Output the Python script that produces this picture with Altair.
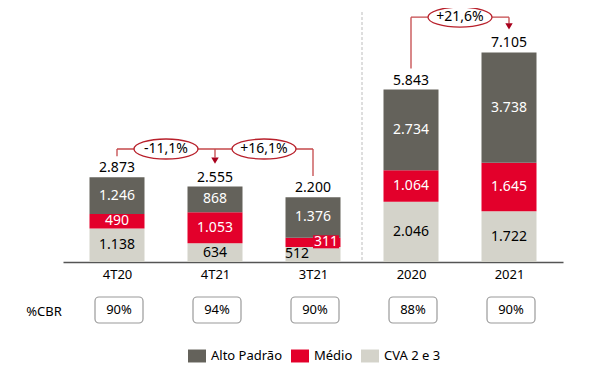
import json
import altair as alt
import pandas as pd

# ---------------- data ----------------
categories = ["4T20", "4T21", "3T21", "2020", "2021"]
alto = [1246, 868, 1376, 2734, 3738]
medio = [490, 1053, 311, 1064, 1645]
cva = [1138, 634, 512, 2046, 1722]
totals = [2873, 2555, 2200, 5843, 7105]
cbr = ["90%", "94%", "90%", "88%", "90%"]
series = ["Alto Padrão", "Médio", "CVA 2 e 3"]
colors = ["#64625b", "#e3002b", "#d4d3ca"]

var_from = ["4T20", "3T21", "2020"]
var_to = ["4T21", "4T21", "2021"]
var_label = ["-11,1%", "+16,1%", "+21,6%"]
var_level = [3830, 3830, 8300]

# ---------------- layout ----------------
W, H = 500, 251
YMAX = 8508
FONT = "Noto Sans"
LINE = "#c4474a"
ARROW = "#a8001c"


def br(n):
    return f"{n:,}".replace(",", ".")


pos = {c: i for i, c in enumerate(categories)}

rows = []
for i, c in enumerate(categories):
    y0 = 0
    med_small = medio[i] * H / YMAX < 12
    for s, v in [("CVA 2 e 3", cva[i]), ("Médio", medio[i]), ("Alto Padrão", alto[i])]:
        place = "center"
        if med_small and s == "Médio":
            place = "right"
        elif med_small and s == "CVA 2 e 3":
            place = "left"
        rows.append(dict(cat=c, pos=i, series=s, v=v, y0=y0, y1=y0 + v,
                         mid=y0 + v / 2, label=br(v),
                         tcolor="black" if s == "CVA 2 e 3" else "white",
                         place=place))
        y0 += v
seg = pd.DataFrame(rows)

tot = pd.DataFrame(dict(cat=categories, pos=list(range(len(categories))),
                        total=totals, label=[br(t) for t in totals], cbr=cbr))

ann = pd.DataFrame(dict(
    p0=[pos[a] for a in var_from],
    p1=[pos[b] for b in var_to],
    t0=[totals[pos[a]] for a in var_from],
    t1=[totals[pos[b]] for b in var_to],
    level=var_level,
    label=var_label,
))
ann["pm"] = (ann.p0 + ann.p1) / 2
arr = ann.drop_duplicates("p1")

xscale = alt.Scale(domain=[-0.5, len(categories) - 0.5], nice=False, zero=False)
yscale = alt.Scale(domain=[0, YMAX], nice=False, zero=True)
xaxis = alt.Axis(values=list(range(len(categories))),
                 labelExpr=f"{json.dumps(categories)}[datum.value]",
                 grid=False, ticks=False, domainColor="#555555", domainWidth=1.5,
                 labelFontSize=13, labelPadding=6, labelColor="black",
                 labelFont=FONT, title=None)


def X(f):
    return alt.X(f, type="quantitative", scale=xscale, axis=xaxis, title=None)


def Y(f):
    return alt.Y(f, type="quantitative", scale=yscale, axis=None, title=None)


bars = alt.Chart(seg).mark_bar(width=55).encode(
    x=X("pos"), y=Y("y0"), y2="y1",
    color=alt.Color("series:N",
                    scale=alt.Scale(domain=series, range=colors),
                    sort=series,
                    legend=alt.Legend(orient="none", direction="horizontal",
                                      legendX=125, legendY=336, title=None,
                                      symbolType="M-1,-0.72L1,-0.72L1,0.72L-1,0.72Z",
                                      symbolSize=324, symbolStrokeWidth=0,
                                      symbolOpacity=1,
                                      labelFontSize=13, labelFont=FONT,
                                      labelColor="black", labelOffset=5,
                                      columnPadding=8, padding=0)),
)

sep = alt.Chart(pd.DataFrame(dict(p=[2.5]))).mark_rule(
    color="#c8c8c8", strokeDash=[3, 2], strokeWidth=1.2).encode(
    x=X("p"), y=alt.value(1), y2=alt.value(H))

redbox = alt.Chart(seg[seg.place == "right"]).mark_rect(
    color=colors[1], xOffset=0, x2Offset=26, yOffset=-7, y2Offset=6).encode(
    x=X("pos"), x2="pos", y=Y("mid"), y2="mid")

seg_c = alt.Chart(seg[seg.place == "center"]).mark_text(
    fontSize=14, font=FONT).encode(
    x=X("pos"), y=Y("mid"), text="label",
    color=alt.Color("tcolor:N", scale=None))
seg_r = alt.Chart(seg[seg.place == "right"]).mark_text(
    fontSize=14, font=FONT, dx=13).encode(
    x=X("pos"), y=Y("mid"), text="label",
    color=alt.Color("tcolor:N", scale=None))
seg_l = alt.Chart(seg[seg.place == "left"]).mark_text(
    fontSize=14, font=FONT, dx=-16).encode(
    x=X("pos"), y=Y("mid"), text="label",
    color=alt.Color("tcolor:N", scale=None))

tot_t = alt.Chart(tot).mark_text(fontSize=14, font=FONT, dy=-9, color="black").encode(
    x=X("pos"), y=Y("total"), text="label")

hline = alt.Chart(ann).mark_rule(color=LINE, strokeWidth=1.3).encode(
    x=X("p0"), x2="p1", y=Y("level"))
vstart = alt.Chart(ann).mark_rule(color=LINE, strokeWidth=1.3, yOffset=-21).encode(
    x=X("p0"), y=Y("t0"), y2="level")
vend = alt.Chart(arr).mark_rule(color=LINE, strokeWidth=1.3, yOffset=-29).encode(
    x=X("p1"), y=Y("t1"), y2="level")
head = alt.Chart(arr).mark_point(shape="triangle-down", filled=True, size=55,
                                 color=ARROW, opacity=1, yOffset=-26).encode(
    x=X("p1"), y=Y("t1"))

k = 0.3125
c = 0.5523 * k
ell_path = (f"M-1,0C-1,{-c} -0.5523,{-k} 0,{-k}C0.5523,{-k} 1,{-c} 1,0"
            f"C1,{c} 0.5523,{k} 0,{k}C-0.5523,{k} -1,{c} -1,0Z")
ell = alt.Chart(ann).mark_point(shape=ell_path, size=64 * 64, filled=False,
                                fill="white", fillOpacity=1, stroke="#b8202b",
                                strokeWidth=1.3, opacity=1).encode(
    x=X("pm"), y=Y("level"))
ell_t = alt.Chart(ann).mark_text(fontSize=14, font=FONT, color="black").encode(
    x=X("pm"), y=Y("level"), text="label")

cbr_box = alt.Chart(tot).mark_rect(fill="white", stroke="#9a9a9a", strokeWidth=1.2,
                                   cornerRadius=4, xOffset=-22, x2Offset=26).encode(
    x=X("pos"), x2="pos", y=alt.value(286), y2=alt.value(312))
cbr_t = alt.Chart(tot).mark_text(fontSize=13, font=FONT, color="black", dx=2).encode(
    x=X("pos"), y=alt.value(299), text="cbr")
cbr_lbl = alt.Chart(pd.DataFrame(dict(t=["%CBR"]))).mark_text(
    fontSize=13, font=FONT, color="black").encode(
    x=alt.value(-19), y=alt.value(301), text="t")

chart = alt.layer(
    sep, bars, redbox, seg_c, seg_r, seg_l, tot_t,
    hline, vstart, vend, head, ell, ell_t,
    cbr_box, cbr_t, cbr_lbl,
).properties(
    width=W, height=H,
    autosize=alt.AutoSizeParams(type="none"),
    padding={"left": 55, "top": 3, "right": 20, "bottom": 111},
).configure(
    font=FONT, background="white",
    view=alt.ViewConfig(stroke=None),
)

chart.save("out.html", embed_options={"renderer": "svg", "actions": False})
